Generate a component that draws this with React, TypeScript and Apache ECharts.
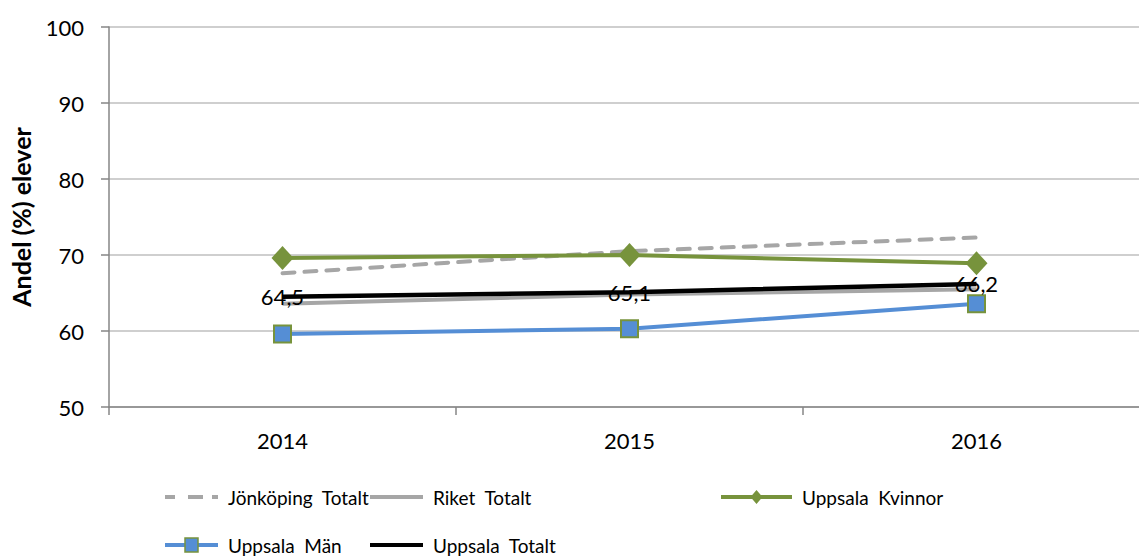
import React, { useEffect, useRef } from "react";
import * as echarts from "echarts";

const years = ["2014", "2015", "2016"];
const jonkopingTotalt = [67.6, 70.5, 72.3];
const riketTotalt = [63.6, 64.8, 65.5];
const uppsalaKvinnor = [69.6, 70.0, 68.9];
const uppsalaMan = [59.6, 60.3, 63.6];
const uppsalaTotalt = [64.5, 65.1, 66.2];
const yTicks = [50, 60, 70, 80, 90, 100];

const FONT = "Lato, 'Open Sans', sans-serif";

const ICON_LINE = "path://M0,0H53V4H0Z";
const ICON_DASH = "path://M0,0H10V4H0Z M23,0H38V4H23Z M47,0H53V4H47Z";
const ICON_DIAMOND = "path://M0,5H71V9H0Z M35.5,0L41.5,7L35.5,14L29.5,7Z";
const ICON_SQUARE = "path://M0,5H53V9H0Z M20,0H33V14H20Z";

export default function App() {
  const ref = useRef<HTMLDivElement>(null);
  useEffect(() => {
    if (!ref.current) return;
    const chart = echarts.init(ref.current, undefined, { renderer: "svg" });
    const legendText = {
      fontFamily: FONT,
      fontSize: 19,
      lineHeight: 22,
      color: "#000",
      padding: [0, 0, 0, 5],
    };
    const mkLegend = (
      name: string,
      icon: string,
      color: string,
      left: number,
      top: number,
      w = 53
    ) => ({
      data: [{ name, icon, itemStyle: { color, opacity: 1, borderWidth: 0 } }],
      left,
      top,
      padding: 0,
      orient: "horizontal",
      itemWidth: w,
      itemHeight: 16,
      textStyle: legendText,
      selectedMode: false,
      formatter: (n: string) => n.split(" ").join("\u00a0\u00a0"),
    });
    chart.setOption({
      animation: false,
      backgroundColor: "#fff",
      textStyle: { fontFamily: FONT },
      grid: {
        left: 109,
        right: 0,
        top: 27,
        bottom: 149,
        containLabel: false,
        outerBoundsMode: "none",
      },
      legend: [
        mkLegend("Jönköping Totalt", ICON_DASH, "#a6a6a6", 165, 486),
        mkLegend("Riket Totalt", ICON_LINE, "#a6a6a6", 370, 486),
        mkLegend("Uppsala Kvinnor", ICON_DIAMOND, "#77933c", 721, 486, 71),
        mkLegend("Uppsala Män", ICON_SQUARE, "#558ed5", 165, 534),
        mkLegend("Uppsala Totalt", ICON_LINE, "#000", 370, 534),
      ],
      graphic: [
        {
          type: "rect",
          shape: { x: 185, y: 538, width: 13, height: 14 },
          style: { fill: "#558ed5", stroke: "#77933c", lineWidth: 1.5 },
          z: 100,
        },
      ],
      xAxis: {
        type: "category",
        data: years,
        boundaryGap: true,
        axisLine: { lineStyle: { color: "#868686", width: 1.5 } },
        axisTick: { show: true, length: 8, lineStyle: { color: "#868686", width: 1.5 } },
        axisLabel: { color: "#000", fontSize: 22, fontFamily: FONT, margin: 22 },
        splitLine: { show: false },
      },
      yAxis: {
        type: "value",
        min: yTicks[0],
        max: yTicks[yTicks.length - 1],
        interval: 10,
        name: "Andel (%) elever",
        nameLocation: "middle",
        nameGap: 76,
        nameTextStyle: { fontFamily: FONT, fontSize: 25, fontWeight: "bold", color: "#000" },
        axisLine: { show: true, lineStyle: { color: "#868686", width: 1.5 } },
        axisTick: { show: true, length: 8, lineStyle: { color: "#868686", width: 1.5 } },
        axisLabel: { color: "#000", fontSize: 22, fontFamily: FONT, margin: 25 },
        splitLine: { show: true, lineStyle: { color: "#bfbfbf", width: 1.5 } },
      },
      series: [
        {
          name: "Jönköping Totalt",
          type: "line",
          data: jonkopingTotalt,
          symbol: "none",
          color: "#a6a6a6",
          itemStyle: { color: "#a6a6a6" },
          lineStyle: { color: "#a6a6a6", width: 4, type: [12, 10], cap: "round" },
        },
        {
          name: "Riket Totalt",
          type: "line",
          data: riketTotalt,
          symbol: "none",
          color: "#a6a6a6",
          itemStyle: { color: "#a6a6a6" },
          lineStyle: { color: "#a6a6a6", width: 4 },
        },
        {
          name: "Uppsala Kvinnor",
          type: "line",
          data: uppsalaKvinnor,
          symbol: "diamond",
          symbolSize: [22, 24],
          color: "#77933c",
          itemStyle: { color: "#77933c" },
          lineStyle: { color: "#77933c", width: 4 },
        },
        {
          name: "Uppsala Män",
          type: "line",
          data: uppsalaMan,
          symbol: "rect",
          symbolSize: 17,
          color: "#558ed5",
          itemStyle: { color: "#558ed5", borderColor: "#77933c", borderWidth: 2 },
          lineStyle: { color: "#558ed5", width: 4 },
        },
        {
          name: "Uppsala Totalt",
          type: "line",
          data: uppsalaTotalt,
          symbol: "circle",
          symbolSize: 2,
          showSymbol: true,
          color: "#000",
          itemStyle: { color: "rgba(0,0,0,0)", borderWidth: 0 },
          lineStyle: { color: "#000", width: 4.5 },
          label: {
            show: true,
            position: "inside",
            color: "#000",
            fontSize: 22,
            fontFamily: FONT,
            formatter: (p: any) => String(p.value).replace(".", ","),
          },
          z: 5,
        },
      ],
    });
    return () => chart.dispose();
  }, []);
  return (
    <div
      ref={ref}
      style={{ position: "fixed", left: 0, top: 0, width: 1150, height: 556, background: "#fff" }}
    />
  );
}
